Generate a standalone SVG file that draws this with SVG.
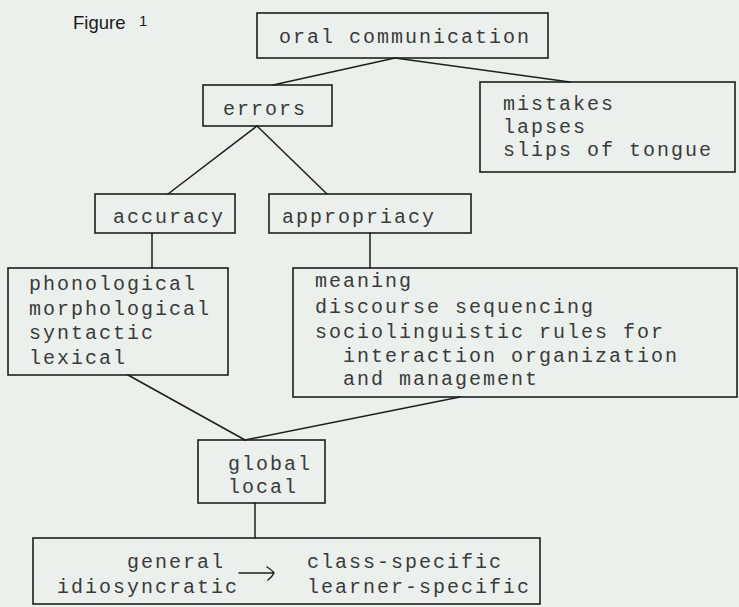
<svg xmlns="http://www.w3.org/2000/svg" width="739" height="607" viewBox="0 0 739 607">
<style>
.bx{fill:none;stroke:#1e1e1e;stroke-width:1.6}
.ln{fill:none;stroke:#1e1e1e;stroke-width:1.5;stroke-linecap:round}
.t{font-family:"Liberation Mono","Courier New",monospace;font-size:20px;letter-spacing:2px;fill:#3a3a3a}
.fig{font-family:"Liberation Sans",Arial,sans-serif;fill:#1a1a1a}
</style>
<rect width="739" height="607" fill="#ebf0ed"/>
<text class="fig" x="73" y="29" font-size="18.5">Figure</text>
<text class="fig" x="139" y="26" font-size="15">1</text>
<g id="connectors">
<path class="ln" d="M395 58 L273 85"/>
<path class="ln" d="M395 58 L570 82"/>
<path class="ln" d="M257 126 L168 194"/>
<path class="ln" d="M257 126 L327 194"/>
<path class="ln" d="M152 233 V268"/>
<path class="ln" d="M370 233 V268"/>
<path class="ln" d="M128 375 L245 440"/>
<path class="ln" d="M460 397 L245 440"/>
<path class="ln" d="M255 503 V538"/>
</g>
<g id="oral">
<rect class="bx" x="257" y="13" width="291" height="45"/>
<text class="t" x="279" y="43">oral communication</text>
</g>
<g id="mistakes">
<rect class="bx" x="480" y="82" width="255" height="90"/>
<text class="t" x="503" y="110">mistakes</text>
<text class="t" x="503" y="133">lapses</text>
<text class="t" x="503" y="156">slips of tongue</text>
</g>
<g id="errors">
<rect class="bx" x="203" y="85" width="129" height="41"/>
<text class="t" x="223" y="115">errors</text>
</g>
<g id="accuracy">
<rect class="bx" x="95" y="194" width="140" height="39"/>
<text class="t" x="113" y="223">accuracy</text>
</g>
<g id="appropriacy">
<rect class="bx" x="269" y="194" width="202" height="39"/>
<text class="t" x="282" y="223">appropriacy</text>
</g>
<g id="phonological">
<rect class="bx" x="8" y="268" width="220" height="107"/>
<text class="t" x="29" y="290">phonological</text>
<text class="t" x="29" y="315">morphological</text>
<text class="t" x="29" y="339">syntactic</text>
<text class="t" x="29" y="364">lexical</text>
</g>
<g id="meaning">
<rect class="bx" x="293" y="268" width="444" height="129"/>
<text class="t" x="315" y="287">meaning</text>
<text class="t" x="315" y="313">discourse sequencing</text>
<text class="t" x="315" y="338">sociolinguistic rules for</text>
<text class="t" x="343" y="362">interaction organization</text>
<text class="t" x="343" y="385">and management</text>
</g>
<g id="global">
<rect class="bx" x="198" y="440" width="127" height="63"/>
<text class="t" x="228" y="470">global</text>
<text class="t" x="228" y="493">local</text>
</g>
<g id="bottom">
<rect class="bx" x="33" y="538" width="507" height="66"/>
<text class="t" x="127" y="568">general</text>
<text class="t" x="57" y="593">idiosyncratic</text>
<text class="t" x="307" y="568">class-specific</text>
<text class="t" x="307" y="593">learner-specific</text>
<path class="ln" d="M239 573 H273 M267 567 Q273 571 274 573 Q272 577 268 580"/>
</g>
</svg>
